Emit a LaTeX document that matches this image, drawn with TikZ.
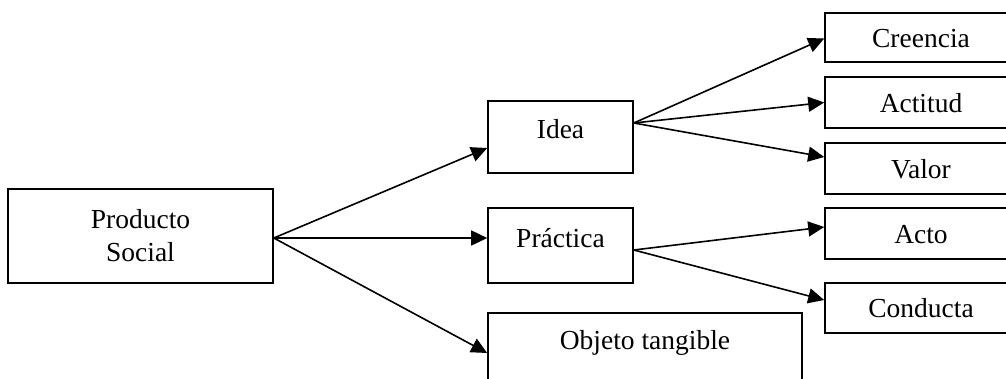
\documentclass[tikz,border=0pt]{standalone}
\usepackage{fontspec}
\setmainfont{Liberation Serif}
\usetikzlibrary{arrows.meta}
\begin{document}
\begin{tikzpicture}[x=1pt,y=-1pt,
  box/.style={draw=black, line width=1.6pt, rectangle, inner sep=0pt,
    font=\fontsize{27.5}{33}\selectfont, align=center},
  rbox/.style={box, minimum width=192pt, text height=19pt, text depth=0pt},
  mbox/.style={box, minimum width=145pt, text height=12pt, text depth=9pt},
  conn/.style={line width=1.6pt, -{Triangle[length=16pt,width=15pt]}}]
\useasboundingbox (0,0) rectangle (1006,378);
\begin{scope}
\clip (0,0) rectangle (1006,378);
\node[box, minimum width=265pt, minimum height=94pt] (P) at (140.5,236) {Producto\\Social};
\node[mbox, minimum height=72pt] (I) at (560.5,137) {Idea};
\node[mbox, minimum height=75pt] (R) at (560.5,245.5) {Práctica};
\node[box, minimum width=314pt, minimum height=77pt, text height=12pt, text depth=17pt] (O) at (645,351.5) {Objeto tangible};
\node[rbox, minimum height=49pt] (C) at (921,37.5) {Creencia};
\node[rbox, minimum height=51pt] (A) at (921,102.5) {Actitud};
\node[rbox, minimum height=51pt] (V) at (921,168.5) {Valor};
\node[rbox, minimum height=51pt] (T) at (921,233.5) {Acto};
\node[rbox, minimum height=50pt] (D) at (921,308) {Conducta};
\coordinate (Ps) at ([yshift=-2pt]P.east);
\draw[conn] (Ps) -- ([yshift=-11pt]I.west);
\draw[conn] (Ps) -- ([yshift=7.5pt]R.west);
\draw[conn] (Ps) -- ([yshift=-1.5pt]O.west);
\coordinate (Is) at ([yshift=14pt]I.east);
\draw[conn] (Is) -- ([yshift=-1pt]C.west);
\draw[conn] (Is) -- (A.west);
\draw[conn] (Is) -- ([yshift=11.5pt]V.west);
\coordinate (Rs) at ([yshift=-4.5pt]R.east);
\draw[conn] (Rs) -- ([yshift=6.5pt]T.west);
\draw[conn] (Rs) -- ([yshift=8pt]D.west);
\end{scope}
\end{tikzpicture}
\end{document}
